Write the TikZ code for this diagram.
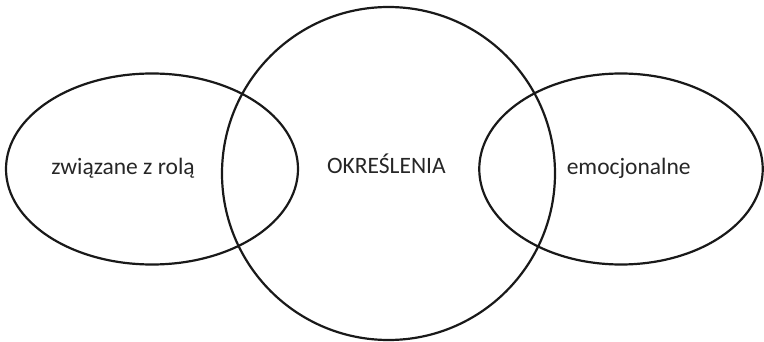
\documentclass[tikz,border=0pt]{standalone}
\usepackage{fontspec}
\setmainfont{Carlito}
\usetikzlibrary{shapes.geometric}
\begin{document}
\begin{tikzpicture}[x=1pt,y=-1pt,
  shapeline/.style={draw=black!90, line width=2.2pt, inner sep=0pt, ellipse},
  lbl/.style={anchor=base, inner sep=0pt, font=\fontsize{23.5}{28}\selectfont, text=black!85}]
\useasboundingbox (0,0) rectangle (764,342);
\node[shapeline, minimum width=333pt, minimum height=333pt] (C) at (388.5,173.5) {};
\node[shapeline, minimum width=292pt, minimum height=191pt] (L) at (152,169) {};
\node[shapeline, minimum width=283.5pt, minimum height=191pt] (R) at (621,169) {};
\node[lbl] (tl) at (123,175) {związane z rolą};
\node[lbl] (tc) at (386.4,174) {OKREŚLENIA};
\node[lbl] (tr) at (628.7,175) {emocjonalne};
\end{tikzpicture}
\end{document}
